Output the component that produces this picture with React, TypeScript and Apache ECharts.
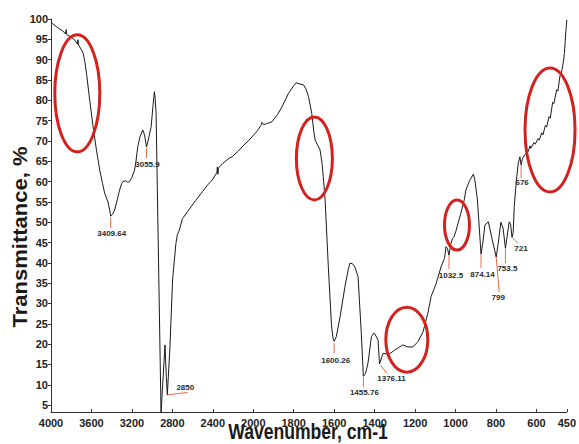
import React, { useEffect, useRef } from "react";
import * as echarts from "echarts";

// ---- Data ----
const wavenumbers: number[] = [
  4000, 3987, 3950, 3912, 3880, 3856, 3850, 3845, 3800, 3764, 3738, 3734, 3728, 3698, 3683, 3665, 3649, 3617, 3584, 3551,
  3518, 3490, 3469, 3437, 3420, 3409.64, 3390, 3371, 3345, 3322, 3300, 3289, 3260, 3240, 3224, 3200, 3174, 3160, 3142, 3120,
  3093, 3075, 3055.9, 3040, 3010, 2990, 2978, 2970, 2961, 2912, 2873, 2860, 2850, 2824, 2798, 2765, 2750, 2732, 2700, 2650,
  2568, 2500, 2450, 2405, 2360, 2355, 2350, 2345, 2300, 2241, 2208, 2150, 2100, 2050, 2012, 1980, 1960, 1957, 1950, 1930,
  1908, 1880, 1858, 1826, 1800, 1788, 1770, 1752, 1740, 1727, 1711, 1700, 1694, 1680, 1670, 1660, 1654, 1645, 1629, 1613,
  1605, 1600.26, 1590, 1571, 1547, 1530, 1522, 1510, 1498, 1482, 1466, 1455.76, 1445, 1433, 1416, 1405, 1400, 1383, 1376.11, 1359,
  1334, 1326, 1302, 1277, 1261, 1236, 1211, 1186, 1161, 1137, 1121, 1096, 1072, 1055, 1047, 1040, 1032.5, 1024, 1015, 1008,
  999, 974, 957, 949, 930, 912, 905, 892, 880, 874.14, 865, 855, 838, 820, 799, 790, 776, 765, 753.5, 745,
  735, 728, 721, 715, 710, 700, 690, 682, 676, 670, 660, 650, 640, 632, 628, 612, 606, 592, 586, 574,
  568, 556, 550, 538, 532, 520, 514, 500, 494, 484, 478, 470, 466, 462, 458, 455, 452, 450,
];
const transmittance: number[] = [
  99.3, 98.9, 98.2, 97.5, 97.0, 96.3, 97.4, 96.2, 95.5, 94.8, 93.8, 94.9, 93.6, 92.4, 91.6, 89.5, 86.6, 80.0, 73.5, 67.8,
  62.8, 59.5, 57.1, 55.0, 53.0, 51.5, 52.0, 53.0, 55.5, 57.9, 59.6, 60.0, 60.2, 59.8, 60.0, 61.0, 62.8, 65.0, 68.6, 71.0,
  72.7, 71.5, 68.5, 70.0, 73.5, 79.0, 82.1, 80.5, 76.8, 3.0, 19.8, 12.0, 7.5, 19.3, 35.8, 44.8, 47.0, 48.0, 50.9, 52.6,
  55.4, 57.6, 59.2, 60.4, 62.2, 63.6, 61.8, 63.3, 64.5, 65.7, 66.1, 67.5, 68.8, 70.0, 71.0, 72.5, 74.0, 74.6, 74.0, 74.3,
  74.7, 76.5, 78.4, 81.7, 83.6, 84.3, 84.0, 83.8, 82.8, 80.9, 76.8, 72.0, 70.2, 68.8, 67.8, 64.5, 61.2, 55.5, 39.0, 24.3,
  21.3, 20.7, 21.8, 26.7, 34.1, 38.5, 39.9, 39.8, 39.0, 36.6, 22.6, 12.1, 12.8, 15.3, 21.8, 22.7, 22.6, 21.0, 15.1, 17.7,
  17.6, 17.6, 18.5, 19.3, 19.8, 19.3, 19.3, 20.6, 23.0, 27.6, 31.7, 34.9, 39.0, 41.1, 44.0, 43.5, 41.9, 44.5, 46.0, 46.3,
  47.7, 52.2, 55.5, 57.9, 60.3, 61.8, 60.5, 55.5, 46.5, 42.2, 45.0, 49.3, 50.1, 46.0, 41.4, 44.5, 50.0, 48.5, 43.6, 46.5,
  50.1, 49.5, 46.3, 47.5, 53.8, 60.0, 64.5, 66.1, 64.1, 65.5, 66.5, 66.9, 67.5, 68.8, 68.2, 69.6, 69.2, 70.6, 70.2, 72.0,
  71.5, 73.8, 73.4, 76.0, 75.6, 79.5, 79.2, 82.6, 82.3, 86.0, 86.5, 88.5, 89.9, 91.5, 94.5, 96.8, 98.5, 99.8,
];

const peakWavenumbers: number[] = [3409.64, 3055.9, 2850, 1600.26, 1455.76, 1376.11, 1032.5, 874.14, 799, 753.5, 721, 676];
const peakValues: number[] = [51.5, 68.5, 7.5, 20.7, 12.1, 15.1, 41.9, 42.2, 41.4, 43.6, 46.3, 64.1];
const peakLabels: string[] = ["3409.64", "3055.9", "2850", "1600.26", "1455.76", "1376.11", "1032.5", "874.14", "799", "753.5", "721", "676"];

// Regions circled in red (wavenumber, transmittance of the centre)
const highlightWavenumbers: number[] = [3740, 1698, 1241, 993, 533];
const highlightValues: number[] = [81.7, 65.7, 21.1, 49.3, 72.7];

const xTickValues: number[] = [4000, 3600, 3200, 2800, 2400, 2000, 1800, 1600, 1400, 1200, 1000, 800, 600, 450];
const xTickLabels: string[] = ["4000", "3600", "3200", "2800", "2400", "2000", "1800", "1600", "1400", "1200", "1000", "800", "600", "450"];
const yTickValues: number[] = [5, 10, 15, 20, 25, 30, 35, 40, 45, 50, 55, 60, 65, 70, 75, 80, 85, 90, 95, 100];

// ---- Layout (pixel offsets / sizes, kept apart from data) ----
const peakLayout = [
  { x1: 0, y1: 1, x2: 0, y2: 12, tx: 1, ty: 17 },
  { x1: 0, y1: 1, x2: 0, y2: 11, tx: 1, ty: 17 },
  { x1: 0, y1: 0, x2: 20, y2: -2.5, tx: 18, ty: -7 },
  { x1: 0, y1: 2, x2: 0, y2: 12, tx: 1.5, ty: 19 },
  { x1: 0, y1: 1, x2: 0, y2: 11, tx: 1, ty: 16 },
  { x1: 1, y1: 1, x2: 7, y2: 9, tx: 12, ty: 14.5 },
  { x1: 0, y1: 0, x2: 0, y2: 14, tx: 2, ty: 20 },
  { x1: 0, y1: 0, x2: 0, y2: 14, tx: 1.5, ty: 21 },
  { x1: 0, y1: 0, x2: 3, y2: 35, tx: 2, ty: 40 },
  { x1: 0, y1: 0, x2: 0, y2: 15, tx: 2, ty: 20 },
  { x1: 0, y1: 0, x2: 6, y2: 6, tx: 9, ty: 11 },
  { x1: 0, y1: 0, x2: 0, y2: 13, tx: 1, ty: 18 },
];
const highlightRadii = [
  [22.5, 58.5],
  [18, 41.5],
  [21, 32.5],
  [12.5, 25],
  [25, 62],
];

// Piecewise-linear IR wavenumber scale (scale change at 2000 cm-1)
const toU = (w: number) => (w >= 2000 ? (4000 - w) / 400 : 5 + (2000 - w) / 200);

const FONT = '"Liberation Sans", Arial, sans-serif';

export default function App() {
  const ref = useRef<HTMLDivElement>(null);

  useEffect(() => {
    if (!ref.current) return;
    const chart = echarts.init(ref.current, undefined, { renderer: "svg" });
    const xCustom = xTickValues.map(toU);

    const option: any = {
      animation: false,
      backgroundColor: "#ffffff",
      textStyle: { fontFamily: FONT },
      grid: { left: 51, right: 9, top: 19, bottom: 32, containLabel: false },
      xAxis: {
        type: "value",
        min: 0,
        max: toU(450),
        axisLine: { show: true, onZero: false, lineStyle: { color: "#333", width: 1 } },
        axisTick: { show: true, inside: true, length: 3, customValues: xCustom, lineStyle: { color: "#333" } },
        axisLabel: {
          customValues: xCustom,
          margin: 5,
          fontSize: 11,
          fontWeight: "bold",
          color: "#222",
          fontFamily: FONT,
          formatter: (val: number) => {
            let best = 0;
            xCustom.forEach((u, i) => {
              if (Math.abs(u - val) < Math.abs(xCustom[best] - val)) best = i;
            });
            return xTickLabels[best];
          },
        },
        splitLine: { show: false },
      },
      yAxis: {
        type: "value",
        min: 3.3,
        max: 100,
        axisLine: { show: true, onZero: false, lineStyle: { color: "#333", width: 1 } },
        axisTick: { show: true, length: 3, customValues: yTickValues, lineStyle: { color: "#333" } },
        axisLabel: {
          customValues: yTickValues,
          margin: 3,
          fontSize: 11,
          fontWeight: "bold",
          color: "#222",
          fontFamily: FONT,
        },
        splitLine: { show: false },
      },
      graphic: [
        {
          type: "text",
          x: 20,
          y: 237,
          rotation: Math.PI / 2,
          scaleY: 0.88,
          style: {
            text: "Transmittance, %",
            font: `bold 22px ${FONT}`,
            fill: "#1a1a1a",
            align: "center",
            verticalAlign: "middle",
          },
        },
        {
          type: "text",
          x: 308,
          y: 431,
          scaleX: 0.8,
          style: {
            text: "Wavenumber, cm-1",
            font: `bold 22px ${FONT}`,
            fill: "#1a1a1a",
            align: "center",
            verticalAlign: "middle",
          },
        },
      ],
      series: [
        {
          type: "line",
          name: "spectrum",
          data: wavenumbers.map((w, i) => [toU(w), transmittance[i]]),
          showSymbol: false,
          symbol: "none",
          lineStyle: { color: "#1a1a1a", width: 1 },
          clip: true,
          z: 2,
        },
        {
          type: "custom",
          name: "peaks",
          silent: true,
          encode: { x: 0, y: 1 },
          data: peakWavenumbers.map((w, i) => [toU(w), peakValues[i], i]),
          renderItem: (params: any, api: any) => {
            const idx = api.value(2);
            const p = api.coord([api.value(0), api.value(1)]);
            const L = peakLayout[idx];
            return {
              type: "group",
              children: [
                {
                  type: "line",
                  shape: { x1: p[0] + L.x1, y1: p[1] + L.y1, x2: p[0] + L.x2, y2: p[1] + L.y2 },
                  style: { stroke: "#ef6a48", lineWidth: 1 },
                },
                {
                  type: "text",
                  x: p[0] + L.tx,
                  y: p[1] + L.ty,
                  style: {
                    text: peakLabels[idx],
                    font: `bold 8px ${FONT}`,
                    fill: "#2a2a2a",
                    align: "center",
                    verticalAlign: "middle",
                  },
                },
              ],
            };
          },
          z: 3,
        },
        {
          type: "custom",
          name: "highlights",
          silent: true,
          clip: false,
          encode: { x: 0, y: 1 },
          data: highlightWavenumbers.map((w, i) => [toU(w), highlightValues[i], i]),
          renderItem: (params: any, api: any) => {
            const idx = api.value(2);
            const p = api.coord([api.value(0), api.value(1)]);
            const r = highlightRadii[idx];
            return {
              type: "ellipse",
              shape: { cx: p[0], cy: p[1], rx: r[0], ry: r[1] },
              style: { fill: "none", stroke: "#d3221e", lineWidth: 3 },
            };
          },
          z: 4,
        },
      ],
    };
    chart.setOption(option);
    return () => chart.dispose();
  }, []);

  return (
    <div
      ref={ref}
      style={{ position: "fixed", left: 0, top: 0, width: 579, height: 444, background: "#fff" }}
    />
  );
}
